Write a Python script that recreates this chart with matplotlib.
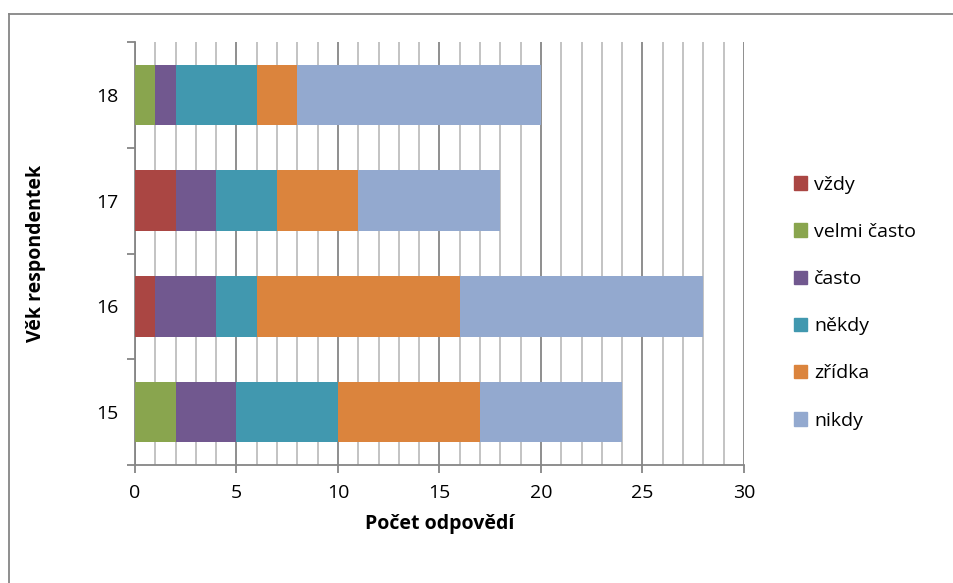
import matplotlib
matplotlib.use("Agg")
import matplotlib.pyplot as plt
from matplotlib.lines import Line2D
from matplotlib.ticker import MultipleLocator

plt.rcParams["font.family"] = ["Open Sans", "DejaVu Sans"]

AGES = ["15", "16", "17", "18"]
SERIES = ["vždy", "velmi často", "často", "někdy", "zřídka", "nikdy"]
VALUES = {
    "vždy":        [0, 1, 2, 0],
    "velmi často": [2, 0, 0, 1],
    "často":       [3, 3, 2, 1],
    "někdy":       [5, 2, 3, 4],
    "zřídka":      [7, 10, 4, 2],
    "nikdy":       [7, 12, 7, 12],
}
COLORS = ["#AA4643", "#89A54E", "#71588F", "#4198AF", "#DB843D", "#93A9CF"]

fig = plt.figure(figsize=(9.54, 5.83), dpi=100)
ax = fig.add_axes([135 / 954, 1 - 465 / 583, (744 - 135) / 954, (465 - 42) / 583])

ys = list(range(len(AGES)))
left = [0] * len(AGES)
handles = []
for name, col in zip(SERIES, COLORS):
    vals = VALUES[name]
    ax.barh(ys, vals, left=left, height=0.57, color=col, edgecolor="none", zorder=3)
    left = [l + v for l, v in zip(left, vals)]
    handles.append(plt.Rectangle((0, 0), 1, 1, color=col))

ax.set_xlim(0, 30)
ax.set_ylim(-0.5, 3.5)
ax.xaxis.set_major_locator(MultipleLocator(5))
ax.xaxis.set_minor_locator(MultipleLocator(1))
ax.grid(which="major", axis="x", color="#868686", lw=1.3, zorder=1)
ax.grid(which="minor", axis="x", color="#BEBEBE", lw=1.3, zorder=1)
ax.set_yticks(ys)
ax.set_yticklabels(AGES)
ax.set_yticks([-0.5, 0.5, 1.5, 2.5, 3.5], minor=True)
ax.tick_params(axis="y", which="major", length=0, pad=12, labelsize=14)
ax.tick_params(axis="y", which="minor", length=6, color="#868686", width=1.3)
ax.tick_params(axis="x", which="major", length=6, color="#868686", width=1.3, labelsize=14, pad=8)
ax.tick_params(axis="x", which="minor", length=0)
for s in ["top", "right"]:
    ax.spines[s].set_visible(False)
for s in ["left", "bottom"]:
    ax.spines[s].set_color("#868686")
    ax.spines[s].set_linewidth(1.3)

ax.set_xlabel("Počet odpovědí", fontsize=14, fontweight="bold", labelpad=8)
ax.set_ylabel("Věk respondentek", fontsize=14, fontweight="bold", labelpad=36)

fig.legend(handles, SERIES, loc="upper left", bbox_to_anchor=(786 / 954, 1 - 168 / 583),
           frameon=False, fontsize=14, handlelength=0.7, handleheight=0.7,
           handletextpad=0.35, labelspacing=1.5, borderaxespad=0)

# outer chart frame (top and left edges)
fig.add_artist(Line2D([9 / 954, 1], [1 - 13.5 / 583] * 2, color="#868686", lw=1.3))
fig.add_artist(Line2D([9 / 954] * 2, [0, 1 - 13.5 / 583], color="#868686", lw=1.3))

fig.savefig("out.png", dpi=100)
